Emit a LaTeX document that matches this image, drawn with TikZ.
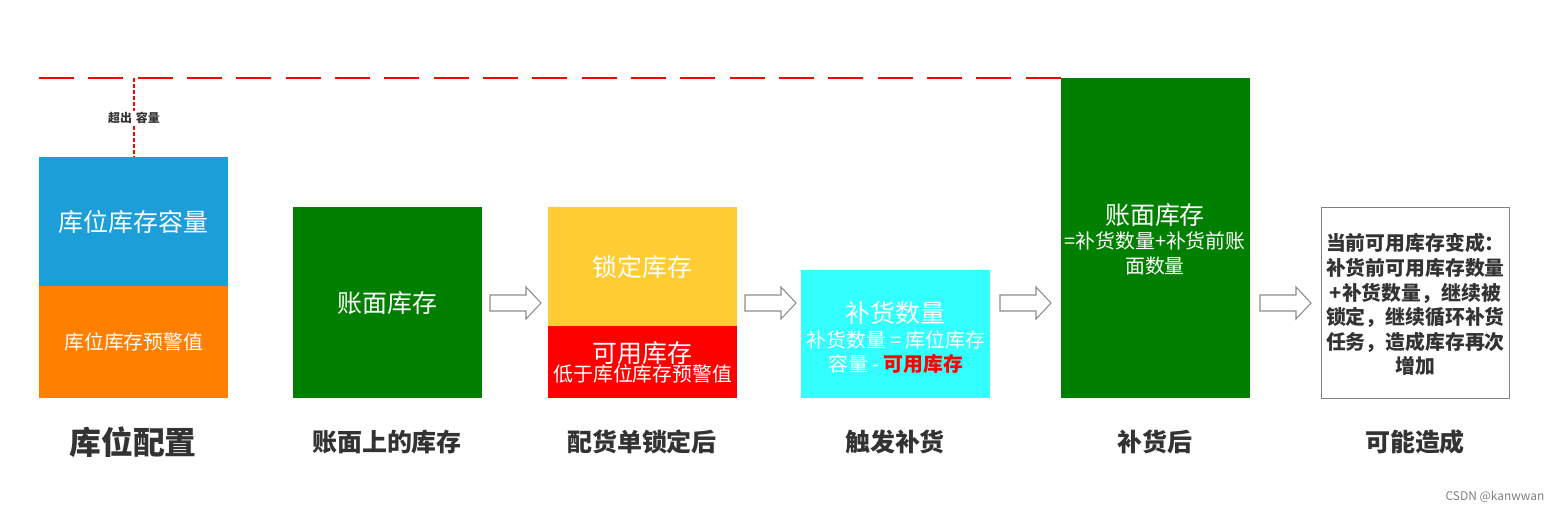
\documentclass[tikz,border=0pt]{standalone}
\usepackage{fontspec}
\setmainfont{Noto Sans CJK SC}
\usetikzlibrary{positioning}

\definecolor{kwblue}{HTML}{1C9ED8}
\definecolor{kworange}{HTML}{FF7F00}
\definecolor{kwgreen}{HTML}{007F00}
\definecolor{kwyellow}{HTML}{FFCC33}
\definecolor{kwcyan}{HTML}{33FFFF}
\definecolor{kwtext}{HTML}{333333}

\tikzset{
  box/.style={inner sep=0pt, anchor=north west, minimum width=3.78cm},
  big/.style={font=\fontsize{14.2}{17}\selectfont},
  mid/.style={font=\fontsize{11.3}{13.9}\selectfont},
  caption/.style={text=kwtext, font=\fontsize{14.2}{17}\selectfont\bfseries},
  blockarrow/.style={draw=gray!90, fill=white, line width=0.6pt},
}

\begin{document}
\begin{tikzpicture}[x=0.02cm,y=-0.02cm]
\useasboundingbox (0,0) rectangle (1561,512);

% limit line
\draw[red, line width=1.1pt, dash pattern=on 0.7cm off 0.287cm] (39,78) -- (1061,78);
\draw[red, line width=1.1pt, dash pattern=on 0.08cm off 0.04cm] (134,78) -- (134,157);
\node[text=kwtext, font=\fontsize{6.8}{8}\selectfont\bfseries, fill=white, inner sep=0.5pt] (over) at (134,118) {超出\,\,容量};

% stage 1
\node[box, fill=kwblue, minimum height=2.58cm] (cap) at (39,157) {};
\node[box, fill=kworange, minimum height=2.24cm] (warn) at (39,286) {};
\node[big, text=white] at (cap.center) {库位库存容量};
\node[mid, text=white] at (warn.center) {库位库存预警值};

% stage 2
\node[box, fill=kwgreen, minimum height=3.82cm] (book) at (293,207) {};
\node[big, text=white] at (book.center) {账面库存};

% stage 3
\node[box, fill=kwyellow, minimum height=2.38cm] (lock) at (548,207) {};
\node[box, fill=red, minimum height=1.44cm] (avail) at (548,326) {};
\node[big, text=white] at (lock.center) {锁定库存};
\node[text=white, align=center, inner sep=0pt] at (avail.center)
  {{\fontsize{14.2}{17}\selectfont 可用库存}\\[-1pt]{\fontsize{11.3}{13}\selectfont 低于库位库存预警值}};

% stage 4
\node[box, fill=kwcyan, minimum height=2.56cm] (refill) at (801,270) {};
\node[text=white, align=center, inner sep=0pt, mid] at ([yshift=-2]refill.center)
  {{\fontsize{14.2}{17}\selectfont 补货数量}\\补货数量 = 库位库存\\容量 - \textcolor{red}{\bfseries 可用库存}};

% stage 5
\node[box, fill=kwgreen, minimum height=6.4cm] (after) at (1061,78) {};
\node[text=white, align=center, inner sep=0pt, mid] at (1155,239)
  {{\fontsize{14.2}{17}\selectfont 账面库存}\\=补货数量+补货前账\\面数量};

% stage 6
\node[box, draw=gray, line width=0.5pt, minimum width=3.76cm, minimum height=3.82cm] (result) at (1321,207) {};
\node[text=kwtext, align=center, inner sep=0pt, font=\fontsize{11.3}{14}\selectfont\bfseries] at ([yshift=-1]result.center)
  {当前可用库存变成：\\补货前可用库存数量\\+补货数量，继续被\\锁定，继续循环补货\\任务，造成库存再次\\增加};

% block arrows
\foreach \ax in {490,745,1000,1260}{
  \draw[blockarrow] (\ax,295) -- (\ax+36,295) -- (\ax+36,287) -- (\ax+51,303)
    -- (\ax+36,319) -- (\ax+36,311) -- (\ax,311) -- cycle;
}

% captions
\node[caption, font=\fontsize{18.1}{21}\selectfont\bfseries] (c1) at (133,442) {库位配置};
\node[caption] (c2) at (387,442) {账面上的库存};
\node[caption] (c3) at (642,442) {配货单锁定后};
\node[caption] (c4) at (895,442) {触发补货};
\node[caption] (c5) at (1155,442) {补货后};
\node[caption] (c6) at (1415,442) {可能造成};

\node[text=gray, font=\fontsize{6.8}{8}\selectfont] (mark) at (1495,497) {CSDN @kanwwan};
\end{tikzpicture}
\end{document}
